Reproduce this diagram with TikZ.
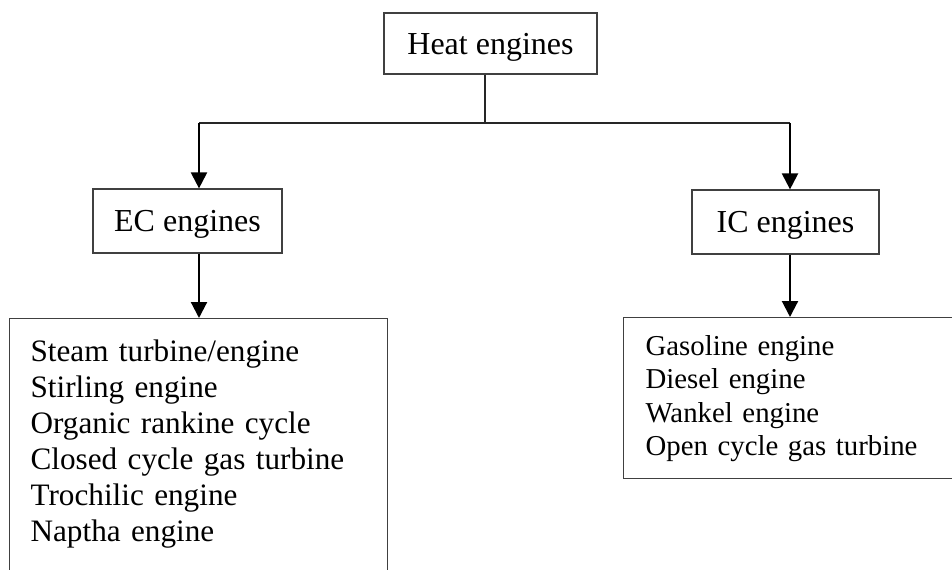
\documentclass[tikz,border=0pt]{standalone}
\usepackage{fontspec}
\setmainfont{Liberation Serif}
\usetikzlibrary{arrows.meta, positioning}

\begin{document}
\begin{tikzpicture}[
    x=0.75pt, y=-0.75pt,
    box/.style={rectangle, draw=black!75, line width=0.9pt, inner sep=0pt, text depth=0pt, font=\fontsize{24}{28}\selectfont},
    listbox/.style={rectangle, draw=black!75, line width=0.9pt, anchor=north west, align=left, inner ysep=0pt},
    arrow/.style={-{Triangle[length=12pt, width=12pt]}, line width=1.6pt},
    link/.style={line width=1pt, black!85}
]

\useasboundingbox (0,0) rectangle (952,570);
\clip (0,0) rectangle (952,570);

% Root
\node[box, minimum width=159.75pt, minimum height=45.75pt] (heat) at (490.5,43.5) {Heat engines};

% Two families
\node[box, minimum width=141.75pt, minimum height=48pt] (ec) at (187.5,221) {EC engines};
\node[box, minimum width=140.25pt, minimum height=48pt] (ic) at (785.5,222) {IC engines};

% Engine lists
\node[listbox, inner xsep=15.75pt, text width=252pt, text height=32pt, text depth=180pt, font=\fontsize{23.4}{27}\selectfont] (eclist) at (9,318)
    {Steam turbine/engine\\Stirling engine\\Organic rankine cycle\\Closed cycle gas turbine\\Trochilic engine\\Naptha engine};
\node[listbox, inner xsep=16.5pt, text width=240pt, text height=28.5pt, text depth=92.25pt, font=\fontsize{21.6}{25}\selectfont] (iclist) at (623,317)
    {Gasoline engine\\Diesel engine\\Wankel engine\\Open cycle gas turbine};

% Branching
\coordinate (split) at (485,123);
\coordinate (ecdrop) at (199,123);
\coordinate (icdrop) at (790,123);
\draw[link] (heat.south -| split) -- (split);
\draw[link] (ecdrop) -- (icdrop);

% Arrows
\draw[arrow] (ecdrop) -- (ecdrop |- ec.north);
\draw[arrow] (icdrop) -- (icdrop |- ic.north);
\draw[arrow] (ecdrop |- ec.south) -- (ecdrop |- eclist.north);
\draw[arrow] (icdrop |- ic.south) -- (icdrop |- iclist.north);

\end{tikzpicture}
\end{document}
